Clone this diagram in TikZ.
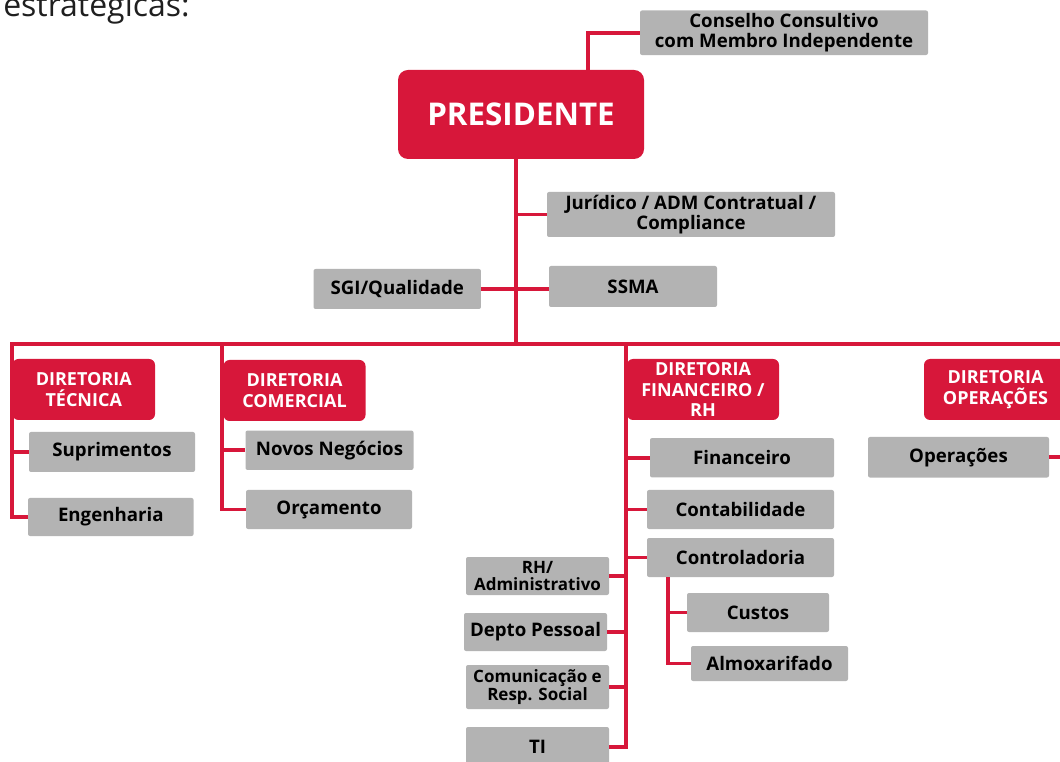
\documentclass[tikz,border=0pt]{standalone}
\usepackage{fontspec}
\setmainfont{Open Sans}
\definecolor{chartred}{RGB}{215,23,58}
\definecolor{chartgray}{RGB}{179,179,179}

\begin{document}
\begin{tikzpicture}[
  x=0.75pt, y=-0.75pt,
  every node/.style={font=\bfseries\fontsize{14}{15.5}\selectfont, inner sep=0pt, align=center},
  link/.style={draw=chartred, line width=2.8pt},
  head/.style={fill=chartred, text=white, rounded corners=7.5pt,
               font=\bfseries\fontsize{23.5}{26}\selectfont},
  board/.style={fill=chartred, text=white, rounded corners=4.5pt,
                minimum height=45.75pt, font=\bfseries\fontsize{13.5}{15.5}\selectfont},
  unit/.style={fill=chartgray, text=black, rounded corners=1.5pt, minimum height=29.5pt},
  unitsmall/.style={unit, font=\bfseries\fontsize{12.75}{13}\selectfont}
]
\useasboundingbox (0,0) rectangle (1060,762);
\clip (0,0) rectangle (1060,762);

\node[anchor=base west, font=\fontsize{24}{28}\selectfont, text=black!88] (intro) at (3,17) {estratégicas:};

\node[head, minimum width=184.5pt, minimum height=66.75pt] (pres) at (521,114.5) {PRESIDENTE};
\node[unit, minimum width=216pt, minimum height=33.4pt] (cons) at (784,32.75) {Conselho Consultivo\\com Membro Independente};
\node[unit, minimum width=216pt, minimum height=33.75pt] (jur) at (691,214.5) {Jurídico / ADM Contratual /\\Compliance};
\node[unit, minimum width=126pt, minimum height=30.75pt] (ssma) at (633,286.5) {SSMA};
\node[unit, minimum width=125.6pt, minimum height=30pt] (sgi) at (397.25,289) {SGI/Qualidade};

\node[board, minimum width=106.9pt] (tec) at (83.75,389.5) {DIRETORIA\\TÉCNICA};
\node[unit, minimum width=124.5pt, minimum height=30pt] (sup) at (112,452) {Suprimentos};
\node[unit, minimum width=124.2pt, minimum height=28.5pt] (eng) at (110.8,517) {Engenharia};

\node[board, minimum width=106.5pt] (com) at (294.5,390.5) {DIRETORIA\\COMERCIAL};
\node[unit, minimum width=126pt] (nov) at (329.5,450.25) {Novos Negócios};
\node[unit, minimum width=124.5pt, minimum height=29.25pt] (orc) at (329,509.5) {Orçamento};

\node[board, minimum width=114pt] (fin) at (703,389.5) {DIRETORIA\\FINANCEIRO /\\RH};
\node[unit, minimum width=138pt] (finu) at (742,457.75) {Financeiro};
\node[unit, minimum width=140.25pt, minimum height=29.25pt] (cont) at (740.5,509.5) {Contabilidade};
\node[unit, minimum width=140.25pt, minimum height=29.25pt] (ctrl) at (740.5,557.5) {Controladoria};
\node[unit, minimum width=106.5pt, minimum height=29.25pt] (custos) at (758,612.5) {Custos};
\node[unit, minimum width=117.75pt, minimum height=26.25pt] (almox) at (769.5,663.5) {Almoxarifado};
\node[unitsmall, minimum width=107.25pt, minimum height=28.5pt] (rh) at (537.5,576) {RH/\\Administrativo};
\node[unit, minimum width=107.25pt, minimum height=28.5pt] (depto) at (535.5,632) {Depto Pessoal};
\node[unitsmall, minimum width=107.25pt, minimum height=33pt] (comu) at (537.5,687) {Comunicação e\\Resp. Social};
\node[unit, minimum width=107.25pt, minimum height=30pt] (ti) at (537.5,747) {TI};

\node[board, minimum width=107.25pt] (oper) at (995.5,389.5) {DIRETORIA\\OPERAÇÕES};
\node[unit, minimum width=135.75pt, minimum height=30.4pt] (ops) at (958.5,457.25) {Operações};

\coordinate (trunk) at (516,344);
\coordinate (bus-l) at (12,344);
\coordinate (bus-r) at (1064,344);
\coordinate (com-x) at (222,344);
\coordinate (fin-x) at (626,344);
\coordinate (cons-x) at (588,0);
\coordinate (ctrl-x) at (668,0);

\draw[link] (pres.north -| cons-x) |- (cons.west);
\draw[link] (trunk |- pres.south) -- (trunk);
\draw[link] (jur.west) -- (jur.west -| trunk);
\draw[link] (sgi.east) -- (sgi.east -| ssma.west);

\draw[link] (ops.east) -| (bus-r) -- (bus-l) |- (eng.west);
\draw[link] (sup.west) -- (sup.west -| bus-l);

\draw[link] (com-x) |- (orc.west);
\draw[link] (nov.west) -- (nov.west -| com-x);

\draw[link] (fin-x) |- (ti.east);
\foreach \n in {finu,cont,ctrl}
  \draw[link] (\n.west) -- (\n.west -| fin-x);
\foreach \n in {rh,depto,comu}
  \draw[link] (\n.east) -- (\n.east -| fin-x);

\draw[link] (ctrl.south -| ctrl-x) |- (almox.west);
\draw[link] (custos.west) -- (custos.west -| ctrl-x);
\end{tikzpicture}
\end{document}
